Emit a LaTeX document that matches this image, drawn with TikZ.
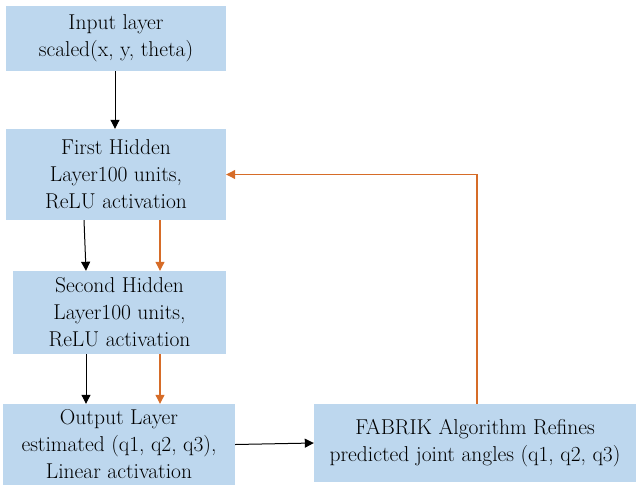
\documentclass[tikz,border=0pt]{standalone}
\usetikzlibrary{arrows.meta}

\definecolor{boxblue}{RGB}{189,215,238}
\definecolor{fborange}{RGB}{214,108,40}

\begin{document}
\begin{tikzpicture}[x=1pt,y=-1pt,
    layer/.style={fill=boxblue, draw=none, align=center, inner sep=0pt,
        text=black, font=\fontsize{21.5}{27}\selectfont},
    fwd/.style={line width=1pt, -{Triangle[length=9pt,width=9pt]}},
    back/.style={draw=fborange, line width=1.1pt,
        -{Triangle[length=9pt,width=9pt,fill=fborange]}}]

    \useasboundingbox (0,0) rectangle (636,487);

    % ネットワークの層
    \node[layer, minimum width=220pt, minimum height=65pt] (inp) at (116,38.5)
        {Input layer\\scaled(x, y, theta)};
    \node[layer, minimum width=220pt, minimum height=91pt] (hid1) at (116,174.5)
        {First Hidden\\Layer100 units,\\ReLU activation};
    \node[layer, minimum width=213pt, minimum height=83pt] (hid2) at (119.5,312.5)
        {Second Hidden\\Layer100 units,\\ReLU activation};
    \node[layer, minimum width=232pt, minimum height=81pt] (outl) at (119,444.5)
        {Output Layer\\estimated (q1, q2, q3),\\Linear activation};
    \node[layer, minimum width=322pt, minimum height=78pt] (fab) at (475,443)
        {FABRIK Algorithm Refines\\predicted joint angles (q1, q2, q3)};

    % 順方向の矢印
    \draw[fwd] ([xshift=-1pt]inp.south) -- ([xshift=-1pt]hid1.north);
    \draw[fwd] ([xshift=-32pt]hid1.south) -- ([xshift=-30pt]hid1.south |- hid2.north);
    \draw[fwd] ([xshift=-33.5pt]hid2.south) -- ([xshift=-33.5pt]hid2.south |- outl.north);
    \draw[fwd] (outl.east) -- (fab.west);

    % FABRIK からのフィードバック
    \draw[back] ([xshift=44pt]hid1.south) -- ([xshift=44pt]hid1.south |- hid2.north);
    \draw[back] ([xshift=40.5pt]hid2.south) -- ([xshift=40.5pt]hid2.south |- outl.north);
    \draw[back] ([xshift=2pt]fab.north) |- (hid1.east);

\end{tikzpicture}
\end{document}
